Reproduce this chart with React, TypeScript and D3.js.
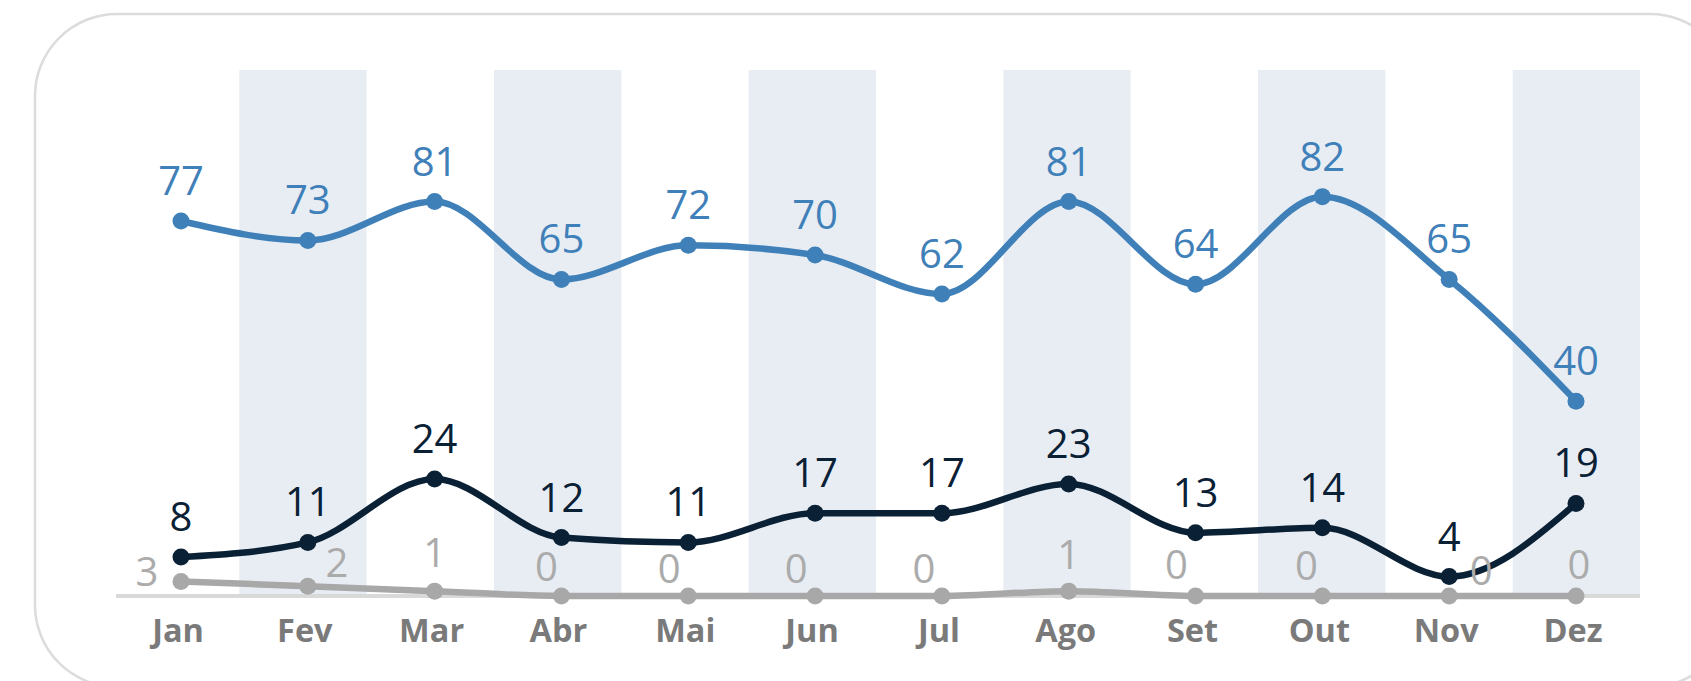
import React from 'react';
import * as d3 from 'd3';

// chart data
const months = ['Jan', 'Fev', 'Mar', 'Abr', 'Mai', 'Jun', 'Jul', 'Ago', 'Set', 'Out', 'Nov', 'Dez'];
const blueSeries = [77, 73, 81, 65, 72, 70, 62, 81, 64, 82, 65, 40];
const darkSeries = [8, 11, 24, 12, 11, 17, 17, 23, 13, 14, 4, 19];
const greySeries = [3, 2, 1, 0, 0, 0, 0, 1, 0, 0, 0, 0];

// label layout nudges for the grey series (dx, baseline offset from point)
const greyLabelNudge: [number, number][] = [
  [-34, 5], [29, -9], [0, -24], [-15, -15], [-19, -13], [-19, -13],
  [-18, -13], [0, -22], [-19, -17], [-16, -16], [32, -11], [3, -17],
];

const W = 1691;
const H = 681;
const FONT = '"Open Sans", "Noto Sans", sans-serif';

const App = () => {
  // scales
  const xBand = d3.scaleBand<string>().domain(months).range([112, 1640]).padding(0);
  const xPoint = d3.scalePoint<string>().domain(months).range([181, 1576]);
  const y = d3.scaleLinear().domain([0, 108]).range([596, 70]);

  const line = d3
    .line<number>()
    .x((_, i) => xPoint(months[i]) as number)
    .y((d) => y(d))
    .curve(d3.curveMonotoneX);

  const series = [
    { key: 'grey', values: greySeries, color: '#a8a8a8', label: '#ababab' },
    { key: 'dark', values: darkSeries, color: '#0a2035', label: '#0a2035' },
    { key: 'blue', values: blueSeries, color: '#3f80b9', label: '#3f80b9' },
  ];

  return (
    <svg
      width={W}
      height={H}
      style={{ position: 'absolute', left: 0, top: 0, background: '#fff' }}
      fontFamily={FONT}
    >
      {/* card border */}
      <rect x={35} y={14} width={1697} height={673} rx={82} ry={82} fill="#fff" stroke="#dcdcdc" strokeWidth={2.5} />

      {/* alternating bands */}
      {months.map((m, i) =>
        i % 2 === 1 ? (
          <rect key={m} x={xBand(m)} y={y(108)} width={xBand.bandwidth()} height={y(0) - y(108)} fill="#e8edf4" />
        ) : null
      )}

      {/* baseline */}
      <line x1={116} x2={1640} y1={y(0)} y2={y(0)} stroke="#d9d9d9" strokeWidth={4} />

      {/* lines and points */}
      {series.map((s) => (
        <g key={s.key}>
          <path d={line(s.values) || ''} fill="none" stroke={s.color} strokeWidth={6.5} strokeLinejoin="round" strokeLinecap="round" />
          {s.values.map((v, i) => (
            <circle key={i} cx={xPoint(months[i])} cy={y(v)} r={8.5} fill={s.color} />
          ))}
        </g>
      ))}

      {/* data labels */}
      {series.map((s) => (
        <g key={s.key + '-lbl'} fontSize={40} fill={s.label} textAnchor="middle">
          {s.values.map((v, i) => {
            const nudge = s.key === 'grey' ? greyLabelNudge[i] : [0, -26];
            return (
              <text key={i} x={(xPoint(months[i]) as number) + nudge[0]} y={y(v) + nudge[1]}>
                {v}
              </text>
            );
          })}
        </g>
      ))}

      {/* month axis labels */}
      <g fontSize={32.5} fontWeight={700} fill="#7a7a7a" textAnchor="middle">
        {months.map((m) => (
          <text key={m} x={(xPoint(m) as number) - 3} y={642}>
            {m}
          </text>
        ))}
      </g>
    </svg>
  );
};

export default App;
